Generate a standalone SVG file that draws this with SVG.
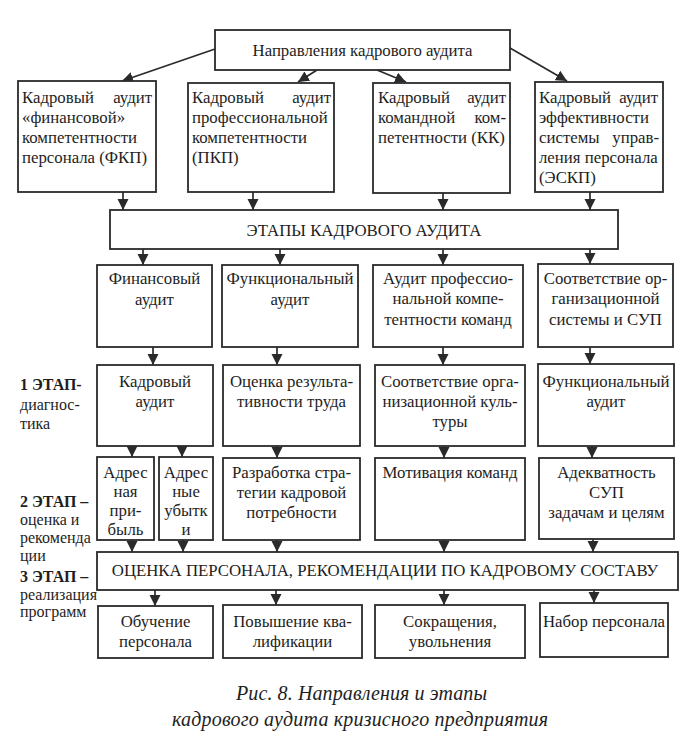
<svg xmlns="http://www.w3.org/2000/svg" width="693" height="744" viewBox="0 0 693 744">
<defs>
<marker id="ah" markerUnits="userSpaceOnUse" markerWidth="12" markerHeight="12" refX="11" refY="5.5" orient="auto">
<path d="M0,0 L11,5.5 L0,11 z" fill="#2a2a2a"/>
</marker>
<style>
.b{fill:#fff;stroke:#2a2a2a;stroke-width:1.8}
.t{font-family:"Liberation Serif","DejaVu Serif",serif;font-size:16.8px;fill:#1e1e1e}
.s{font-size:16px}
.c{text-anchor:middle}
.e{text-anchor:end}
.bd{font-weight:bold}
.cap{font-family:"Liberation Serif","DejaVu Serif",serif;font-size:20px;font-style:italic;fill:#1e1e1e}
.l{stroke:#2a2a2a;stroke-width:1.7;fill:none;marker-end:url(#ah)}
</style>
</defs>
<rect width="693" height="744" fill="#fff"/>

<g id="connectors">
<path class="l" d="M215,49 L122,81"/>
<path class="l" d="M317,70 L298,82"/>
<path class="l" d="M377,70 L406,82"/>
<path class="l" d="M510,48 L567,81"/>
<path class="l" d="M123,192 V210"/>
<path class="l" d="M253,192 V210"/>
<path class="l" d="M443,193 V210"/>
<path class="l" d="M590,192 V210"/>
<path class="l" d="M143,249 V265"/>
<path class="l" d="M280,249 V265"/>
<path class="l" d="M443,249 V265"/>
<path class="l" d="M590,249 V264"/>
<path class="l" d="M153,347 V365"/>
<path class="l" d="M277,347 V365"/>
<path class="l" d="M443,347 V365"/>
<path class="l" d="M590,347 V364"/>
<path class="l" d="M132,446 V457"/>
<path class="l" d="M182,446 V457"/>
<path class="l" d="M277,446 V458"/>
<path class="l" d="M444,446 V458"/>
<path class="l" d="M592,446 V458"/>
<path class="l" d="M132,540 V552"/>
<path class="l" d="M183,540 V552"/>
<path class="l" d="M277,540 V552"/>
<path class="l" d="M444,540 V552"/>
<path class="l" d="M593,539 V552"/>
<path class="l" d="M155,590 V606"/>
<path class="l" d="M276,590 V605"/>
<path class="l" d="M444,590 V605"/>
<path class="l" d="M594,590 V603"/>
</g>

<g id="top">
<rect class="b" x="215" y="30" width="295" height="40"/>
<text class="t c" x="362.5" y="56">Направления кадрового аудита</text>
</g>

<g id="fkp">
<rect class="b" x="18" y="81" width="138" height="111"/>
<text class="t" x="22" y="103">Кадровый</text><text class="t e" x="152" y="103">аудит</text>
<text class="t" x="22" y="123">«финансовой»</text>
<text class="t" x="22" y="143">компетентности</text>
<text class="t" x="22" y="163">персонала (ФКП)</text>
</g>

<g id="pkp">
<rect class="b" x="188" y="83" width="146" height="109"/>
<text class="t" x="192" y="103">Кадровый</text><text class="t e" x="331" y="103">аудит</text>
<text class="t" x="192" y="123">профессиональной</text>
<text class="t" x="192" y="143">компетентности</text>
<text class="t" x="192" y="163">(ПКП)</text>
</g>

<g id="kk">
<rect class="b" x="373" y="83" width="137" height="110"/>
<text class="t" x="378" y="103">Кадровый</text><text class="t e" x="506" y="103">аудит</text>
<text class="t" x="378" y="123">командной</text><text class="t e" x="506" y="123">ком-</text>
<text class="t" x="378" y="143">петентности (КК)</text>
</g>

<g id="eskp">
<rect class="b" x="535" y="82" width="128" height="110"/>
<text class="t" x="539" y="103">Кадровый</text><text class="t e" x="658" y="103">аудит</text>
<text class="t" x="539" y="123">эффективности</text>
<text class="t" x="539" y="143">системы</text><text class="t e" x="659" y="143">управ-</text>
<text class="t" x="539" y="163">ления персонала</text>
<text class="t" x="539" y="183">(ЭСКП)</text>
</g>

<g id="stages">
<rect class="b" x="110" y="210" width="508" height="39"/>
<text class="t c" x="364" y="236">ЭТАПЫ КАДРОВОГО АУДИТА</text>
</g>

<g id="fin-audit">
<rect class="b" x="97" y="265" width="115" height="82"/>
<text class="t c" x="154.5" y="284">Финансовый</text>
<text class="t c" x="154.5" y="305">аудит</text>
</g>
<g id="func-audit">
<rect class="b" x="222" y="265" width="136" height="82"/>
<text class="t c" x="290" y="284">Функциональный</text>
<text class="t c" x="290" y="305">аудит</text>
</g>
<g id="prof-audit">
<rect class="b" x="373" y="265" width="150" height="82"/>
<text class="t c" x="448" y="284">Аудит профессио-</text>
<text class="t c" x="448" y="304">нальной компе-</text>
<text class="t c" x="448" y="325">тентности команд</text>
</g>
<g id="org-sys">
<rect class="b" x="538" y="264" width="135" height="83"/>
<text class="t c" x="605.5" y="284">Соответствие ор-</text>
<text class="t c" x="605.5" y="304">ганизационной</text>
<text class="t c" x="605.5" y="325">системы и СУП</text>
</g>

<g id="hr-audit">
<rect class="b" x="97" y="365" width="116" height="81"/>
<text class="t c" x="155" y="387">Кадровый</text>
<text class="t c" x="155" y="407">аудит</text>
</g>
<g id="labor">
<rect class="b" x="223" y="365" width="137" height="81"/>
<text class="t c" x="291.5" y="387">Оценка результа-</text>
<text class="t c" x="291.5" y="407">тивности труда</text>
</g>
<g id="culture">
<rect class="b" x="375" y="365" width="150" height="81"/>
<text class="t c" x="450" y="387">Соответствие орга-</text>
<text class="t c" x="450" y="407">низационной куль-</text>
<text class="t c" x="450" y="427">туры</text>
</g>
<g id="func2">
<rect class="b" x="538" y="364" width="136" height="82"/>
<text class="t c" x="606" y="387">Функциональный</text>
<text class="t c" x="606" y="407">аудит</text>
</g>

<g id="profit">
<rect class="b" x="97" y="457" width="57" height="83"/>
<text class="t c" x="125.5" y="478">Адрес</text>
<text class="t c" x="125.5" y="497">ная</text>
<text class="t c" x="125.5" y="516">при-</text>
<text class="t c" x="125.5" y="535">быль</text>
</g>
<g id="loss">
<rect class="b" x="159" y="457" width="54" height="83"/>
<text class="t c" x="186" y="478">Адрес</text>
<text class="t c" x="186" y="497">ные</text>
<text class="t c" x="186" y="516">убытк</text>
<text class="t c" x="186" y="535">и</text>
</g>
<g id="strategy">
<rect class="b" x="223" y="458" width="137" height="82"/>
<text class="t c" x="291.5" y="478">Разработка стра-</text>
<text class="t c" x="291.5" y="498">тегии кадровой</text>
<text class="t c" x="291.5" y="518">потребности</text>
</g>
<g id="motivation">
<rect class="b" x="375" y="458" width="150" height="82"/>
<text class="t c" x="450" y="478">Мотивация команд</text>
</g>
<g id="adequacy">
<rect class="b" x="539" y="458" width="135" height="81"/>
<text class="t c" x="606.5" y="478">Адекватность</text>
<text class="t c" x="606.5" y="498">СУП</text>
<text class="t c" x="606.5" y="518">задачам и целям</text>
</g>

<g id="evaluation">
<rect class="b" x="97" y="552" width="581" height="38"/>
<text class="t c" x="385" y="576">ОЦЕНКА ПЕРСОНАЛА, РЕКОМЕНДАЦИИ ПО КАДРОВОМУ СОСТАВУ</text>
</g>

<g id="training">
<rect class="b" x="98" y="606" width="115" height="52"/>
<text class="t c" x="155.5" y="627">Обучение</text>
<text class="t c" x="155.5" y="647">персонала</text>
</g>
<g id="qualification">
<rect class="b" x="223" y="605" width="139" height="53"/>
<text class="t c" x="292.5" y="627">Повышение ква-</text>
<text class="t c" x="292.5" y="647">лификации</text>
</g>
<g id="layoffs">
<rect class="b" x="375" y="605" width="150" height="53"/>
<text class="t c" x="450" y="627">Сокращения,</text>
<text class="t c" x="450" y="647">увольнения</text>
</g>
<g id="hiring">
<rect class="b" x="540" y="603" width="128" height="54"/>
<text class="t c" x="604" y="627">Набор персонала</text>
</g>

<g id="stage-labels">
<text class="t s bd" x="20" y="390">1 ЭТАП-</text>
<text class="t s" x="20" y="410">диагнос-</text>
<text class="t s" x="20" y="429">тика</text>
<text class="t s bd" x="20" y="507">2 ЭТАП –</text>
<text class="t s" x="20" y="525">оценка и</text>
<text class="t s" x="20" y="543">рекоменда</text>
<text class="t s" x="20" y="561">ции</text>
<text class="t s bd" x="20" y="582">3 ЭТАП –</text>
<text class="t s" x="20" y="600">реализация</text>
<text class="t s" x="20" y="617">программ</text>
</g>

<g id="caption">
<text class="cap" x="236" y="700" textLength="251">Рис. 8. Направления и этапы</text>
<text class="cap" x="172" y="726" textLength="376">кадрового аудита кризисного предприятия</text>
</g>
</svg>
